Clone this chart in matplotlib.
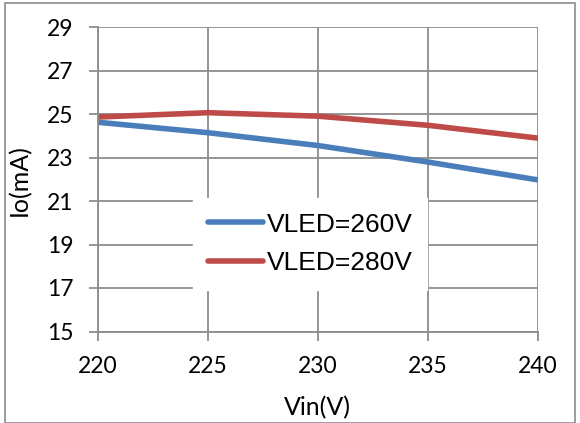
import matplotlib.pyplot as plt
from matplotlib.patches import Rectangle

# dane
vin = [220, 225, 230, 235, 240]
io_260 = [24.62, 24.14, 23.55, 22.79, 21.97]
io_280 = [24.86, 25.06, 24.90, 24.48, 23.89]
labels = ["VLED=260V", "VLED=280V"]
yticks = [15, 17, 19, 21, 23, 25, 27, 29]
xticks = [220, 225, 230, 235, 240]

blue = "#4A7EBB"
red = "#BE4B48"
grid_col = "#8C8C8C"

fig = plt.figure(figsize=(5.8, 4.23), dpi=100)
ax = fig.add_axes([98 / 580, 1 - 331.5 / 423, 440 / 580, 304.5 / 423])

ax.plot(vin, io_260, color=blue, lw=4, label=labels[0], solid_capstyle="butt")
ax.plot(vin, io_280, color=red, lw=4, label=labels[1], solid_capstyle="butt")

ax.set_xlim(220, 240)
ax.set_ylim(15, 29)
ax.set_xticks(xticks)
ax.set_yticks(yticks)
ax.grid(True, color=grid_col, lw=1.3)
ax.set_axisbelow(True)
for s in ax.spines.values():
    s.set_visible(False)
ax.spines["left"].set_visible(True)
ax.spines["bottom"].set_visible(True)
ax.spines["left"].set_color(grid_col)
ax.spines["bottom"].set_color(grid_col)
ax.spines["left"].set_linewidth(1.3)
ax.spines["bottom"].set_linewidth(1.3)
ax.tick_params(axis="both", color=grid_col, width=1.3, length=6.5,
               labelsize=16.5, pad=11)
for t in ax.get_xticklabels() + ax.get_yticklabels():
    t.set_family("Lato")

# podpisy osi w pozycjach z obrazka
fig.text(317 / 580, 1 - 408 / 423, "Vin(V)", fontsize=18, family="Lato",
         ha="center", va="center")
fig.text(19 / 580, 1 - 180 / 423, "Io(mA)", fontsize=18, family="Lato",
         ha="center", va="center", rotation=90)

leg = ax.legend(loc="upper left", bbox_to_anchor=(193 / 580, 1 - 198 / 423),
                bbox_transform=fig.transFigure, frameon=True, fancybox=False,
                borderaxespad=0, handlelength=2.1, handletextpad=0.15,
                labelspacing=0.55, borderpad=0.55,
                prop={"family": "Liberation Sans", "size": 19})
leg.get_frame().set_facecolor("white")
leg.get_frame().set_edgecolor("white")
leg.get_frame().set_alpha(1)
for h in leg.get_lines():
    h.set_solid_capstyle("round")

# ramka wokol calego wykresu
fig.patches.append(Rectangle((5 / 580, 0), 570 / 580, 1 - 3 / 423,
                             transform=fig.transFigure, fill=False,
                             edgecolor="#8C8C8C", lw=1.2))

fig.savefig("out.png", dpi=100)
